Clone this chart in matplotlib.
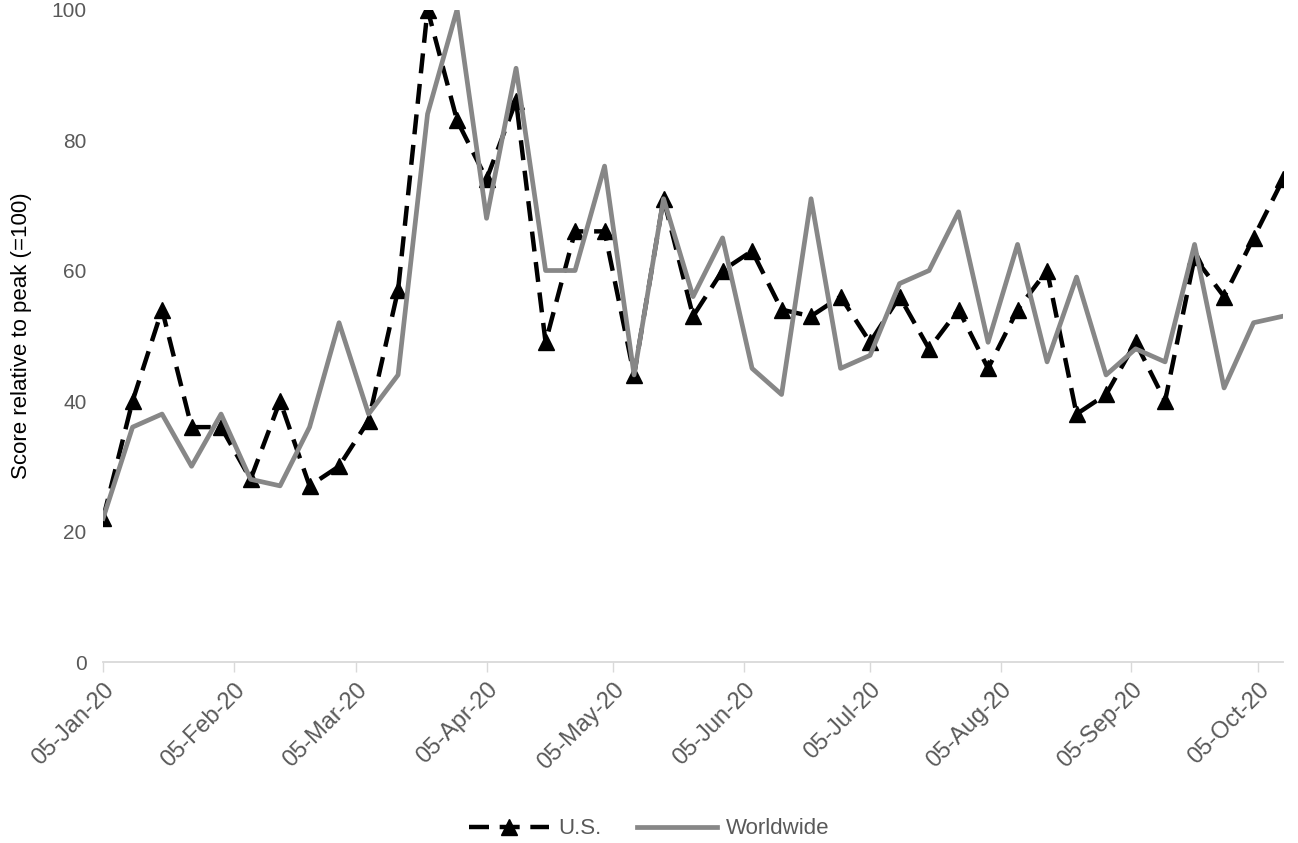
#!/usr/bin/env python3

import datetime as dt
import matplotlib
matplotlib.use("Agg")
import matplotlib.pyplot as plt
import matplotlib.dates as mdates

# weekly scores relative to peak (=100), first week 05-Jan-20
start_date = dt.date(2020, 1, 5)
n_weeks = 41
us_scores = [22, 40, 54, 36, 36, 28, 40, 27, 30, 37,
             57, 100, 83, 74, 86, 49, 66, 66, 44, 71,
             53, 60, 63, 54, 53, 56, 49, 56, 48, 54,
             45, 54, 60, 38, 41, 49, 40, 62, 56, 65, 74]
world_scores = [22, 36, 38, 30, 38, 28, 27, 36, 52, 38,
                44, 84, 100, 68, 91, 60, 60, 76, 44, 71,
                56, 65, 45, 41, 71, 45, 47, 58, 60, 69,
                49, 64, 46, 59, 44, 48, 46, 64, 42, 52, 53]
tick_dates = [dt.date(2020, m, 5) for m in range(1, 11)]
y_ticks = [0, 20, 40, 60, 80, 100]

weeks = [start_date + dt.timedelta(days=7 * i) for i in range(n_weeks)]

plt.rcParams['font.family'] = ['Liberation Sans', 'DejaVu Sans']

fig = plt.figure(figsize=(12.98, 8.43), dpi=100)
ax = fig.add_axes([0.0794, 0.2147, 0.9091, 0.774])

ax.plot(weeks, us_scores, color='black', linewidth=3.2, linestyle=(0, (4.5, 2.4)),
        marker='^', markersize=11, label='U.S.')
ax.plot(weeks, world_scores, color='#878787', linewidth=3.4, label='Worldwide')

ax.set_xlim(weeks[0], weeks[-1])
ax.set_ylim(0, 100)
ax.set_yticks(y_ticks)
ax.set_xticks(tick_dates)
ax.xaxis.set_major_formatter(mdates.DateFormatter('%d-%b-%y'))

for s in ['top', 'right', 'left']:
    ax.spines[s].set_visible(False)
ax.spines['bottom'].set_color('#d9d9d9')
ax.spines['bottom'].set_linewidth(1.3)

ax.tick_params(axis='y', length=0, pad=12, labelsize=15, labelcolor='#595959')
ax.tick_params(axis='x', length=7, width=1, color='#d9d9d9', pad=5,
               labelsize=17, labelcolor='#595959')
for lab in ax.get_xticklabels():
    lab.set_rotation(45)
    lab.set_ha('right')
    lab.set_rotation_mode('anchor')

ax.set_ylabel('Score relative to peak (=100)', fontsize=16, color='black', labelpad=14)

fig.legend(loc='center', bbox_to_anchor=(0.5, 14 / 843), ncol=2, frameon=False,
           fontsize=16, handlelength=3.6, handletextpad=0.4, columnspacing=1.6,
           labelcolor='#595959')

fig.savefig('out.png', dpi=100)
